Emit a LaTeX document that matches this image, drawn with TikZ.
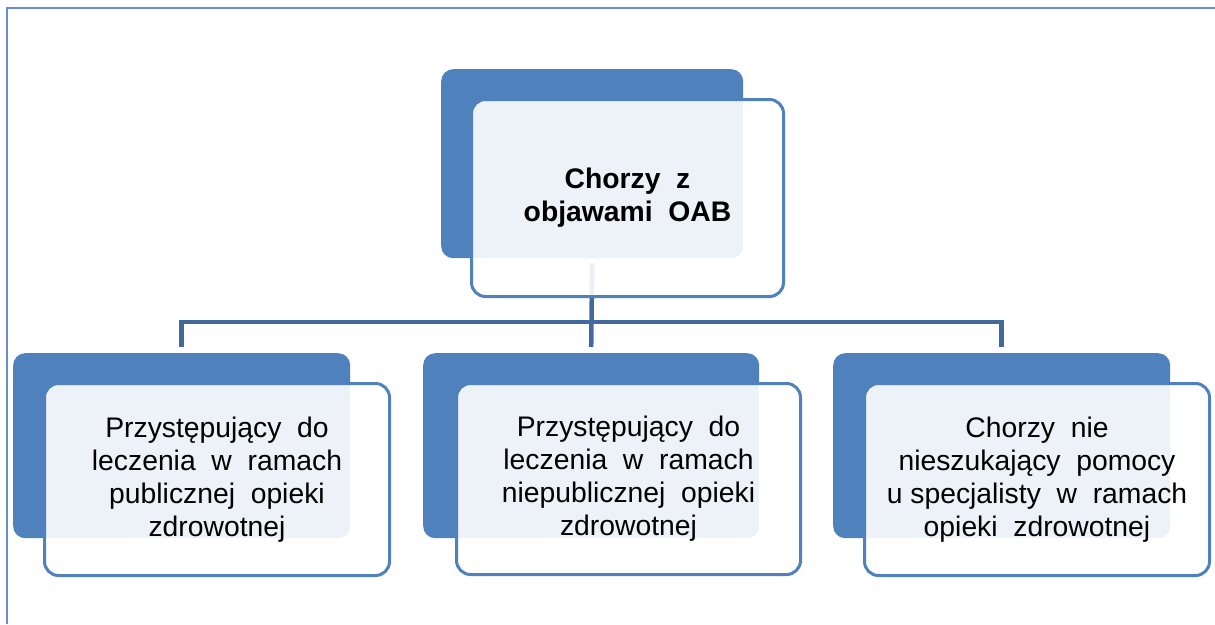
\documentclass[tikz,border=0pt]{standalone}
\usepackage{fontspec}
\setmainfont{Liberation Sans}
\definecolor{boxblue}{RGB}{79,129,189}
\definecolor{connblue}{RGB}{65,105,156}
\definecolor{frameblue}{RGB}{100,145,205}
\begin{document}
\begin{tikzpicture}[x=1pt,y=-1pt,
  darkbox/.style={draw=none, fill=boxblue, rounded corners=12pt, anchor=north west, inner sep=0pt},
  lightbox/.style={draw=boxblue, line width=3pt, fill=white, fill opacity=0.9, text opacity=1,
    rounded corners=14pt, anchor=north west, inner sep=0pt, align=center,
    font=\fontsize{28.3}{33}\selectfont},
  connector/.style={draw=connblue, line width=4.5pt},
  frameline/.style={draw=frameblue, line width=2.5pt}]
\useasboundingbox (0,0) rectangle (1215,624);
\draw[frameline] (7,624) -- (7,8) -- (1215,8);
% dark back boxes
\node[darkbox, minimum width=302pt, minimum height=189pt] (tdark) at (441,69) {};
\node[darkbox, minimum width=337pt, minimum height=185pt] (ldark) at (13,353) {};
\node[darkbox, minimum width=336pt, minimum height=185pt] (mdark) at (423,353) {};
\node[darkbox, minimum width=337pt, minimum height=185pt] (rdark) at (833,353) {};
% connectors
\coordinate (j) at (592,322);
\draw[connector] ([yshift=-5pt]tdark.south) -- ([yshift=6pt]mdark.north);
\draw[connector] ([yshift=6pt]ldark.north) -- (ldark.north |- j) -- (rdark.north |- j) -- ([yshift=6pt]rdark.north);
% light front boxes
\node[lightbox, minimum width=312pt, minimum height=197pt] (tlight) at (470,98)
  {\textbf{Chorzy\ \ z}\\\textbf{objawami\ \ OAB}};
\node[lightbox, minimum width=345pt, minimum height=192pt] (llight) at (43,382)
  {Przystępujący\ \ do\\leczenia\ \ w\ \ ramach\\publicznej\ \ opieki\\zdrowotnej};
\node[lightbox, minimum width=344pt, minimum height=191pt] (mlight) at (455,382)
  {Przystępujący\ \ do\\leczenia\ \ w\ \ ramach\\niepublicznej\ \ opieki\\zdrowotnej};
\node[lightbox, minimum width=345pt, minimum height=192pt] (rlight) at (863,382)
  {Chorzy\ \ nie\\nieszukający\ \ pomocy\\u specjalisty\ \ w\ \ ramach\\opieki\ \ zdrowotnej};
\end{tikzpicture}
\end{document}
